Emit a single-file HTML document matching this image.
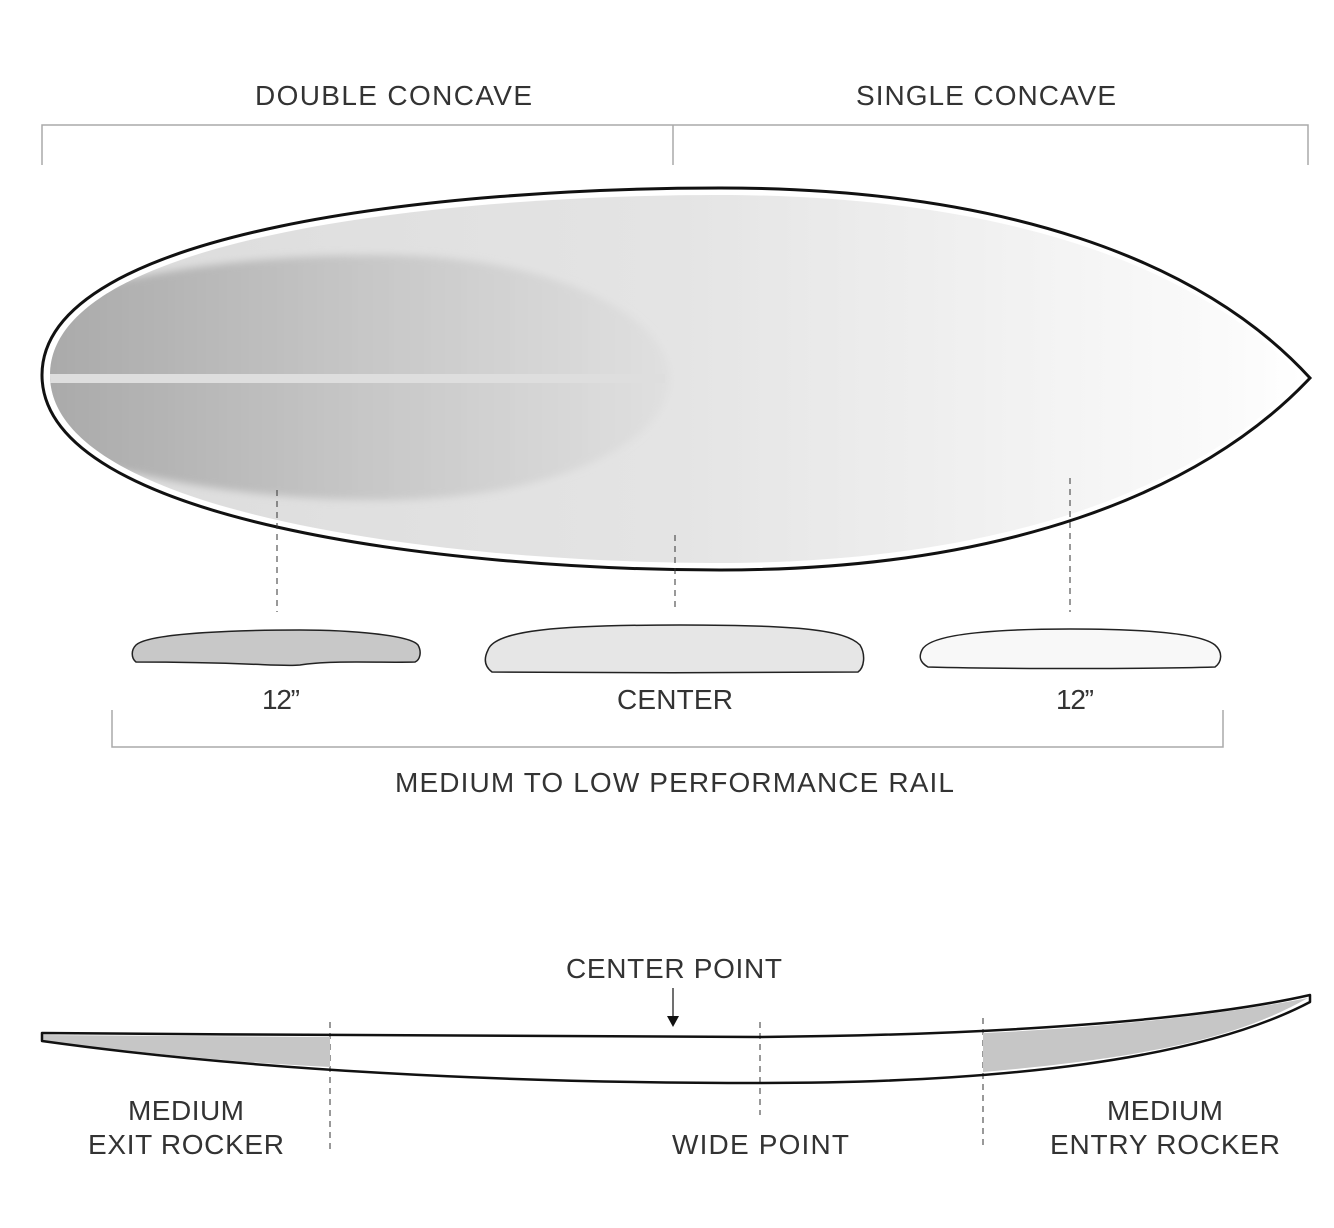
<!DOCTYPE html>
<html><head><meta charset="utf-8"><style>
html,body{margin:0;padding:0;background:#fff;}
svg{display:block;}
text{font-family:"Liberation Sans",sans-serif;font-size:28px;fill:#333;}
</style></head><body>
<svg width="1334" height="1228" viewBox="0 0 1334 1228" xmlns="http://www.w3.org/2000/svg">
<defs>
<linearGradient id="bg" x1="0" x2="1" y1="0" y2="0">
<stop offset="0" stop-color="#dcdcdc"/><stop offset="0.5" stop-color="#e4e4e4"/><stop offset="0.95" stop-color="#fbfbfb"/><stop offset="1" stop-color="#fff"/>
</linearGradient>
<linearGradient id="dk" x1="0" x2="1" y1="0" y2="0">
<stop offset="0" stop-color="#a9a9a9"/><stop offset="0.5" stop-color="#c6c6c6"/><stop offset="1" stop-color="#e0e0e0"/>
</linearGradient>
<filter id="bl" x="-0.1" y="-0.1" width="1.2" height="1.2"><feGaussianBlur stdDeviation="4"/></filter>
<clipPath id="cb"><path d="M50,375 C50,235 450,195 720,195 C1000,195 1200,265 1302,378 C1200,488 1000,563 720,563 C450,563 50,515 50,375 Z"/></clipPath>
</defs>
<path d="M42,165 V125 H1308 V165 M673,125 V165" fill="none" stroke="#aaa" stroke-width="1.5"/>
<text x="255" y="105" textLength="277">DOUBLE CONCAVE</text>
<text x="856" y="105" textLength="260">SINGLE CONCAVE</text>
<path d="M42,375 C42,228 450,188 720,188 C1000,188 1200,258 1310,378 C1200,495 1000,570 720,570 C450,570 42,522 42,375 Z" fill="#fff" stroke="#111" stroke-width="3"/>
<path d="M50,375 C50,235 450,195 720,195 C1000,195 1200,265 1302,378 C1200,488 1000,563 720,563 C450,563 50,515 50,375 Z" fill="url(#bg)"/>
<g clip-path="url(#cb)">
<path d="M40,300 C150,270 250,255 380,255 C560,255 670,320 670,378 C670,440 560,500 380,500 C250,500 150,480 40,450 Z" fill="url(#dk)" filter="url(#bl)"/>
<rect x="40" y="374" width="625" height="9" fill="#dedede"/>
</g>
<g stroke="#333" stroke-width="1" stroke-dasharray="6,5">
<line x1="277" y1="490" x2="277" y2="612"/>
<line x1="675" y1="535" x2="675" y2="612"/>
<line x1="1070" y1="478" x2="1070" y2="612"/>
<line x1="330" y1="1022" x2="330" y2="1150"/>
<line x1="760" y1="1022" x2="760" y2="1115"/>
<line x1="983" y1="1018" x2="983" y2="1150"/>
</g>
<path d="M136,645 C150,632 250,630 300,630 C350,630 410,635 418,645 C422,652 420,660 415,662 C380,663 330,660 300,665 C280,667 250,662 136,662 C131,658 131,650 136,645 Z" fill="#c8c8c8" stroke="#222" stroke-width="1.5"/>
<path d="M488,650 C495,630 560,625 680,625 C800,625 845,630 860,645 C866,655 864,668 858,672 C800,673 560,673 492,672 C484,666 484,658 488,650 Z" fill="#e6e6e6" stroke="#222" stroke-width="1.5"/>
<path d="M922,650 C930,633 1000,629 1070,629 C1140,629 1200,633 1215,645 C1223,652 1222,662 1215,667 C1150,669 1000,669 928,667 C919,662 919,656 922,650 Z" fill="#f8f8f8" stroke="#222" stroke-width="1.5"/>
<text x="262" y="709" textLength="38">12”</text>
<text x="617" y="709" textLength="116">CENTER</text>
<text x="1056" y="709" textLength="38">12”</text>
<path d="M112,710 V747 H1223 V710" fill="none" stroke="#aaa" stroke-width="1.5"/>
<text x="395" y="792" textLength="559">MEDIUM TO LOW PERFORMANCE RAIL</text>
<text x="566" y="978" textLength="216">CENTER POINT</text>
<line x1="673" y1="988" x2="673" y2="1016" stroke="#111" stroke-width="1.2"/>
<path d="M667,1016 L679,1016 L673,1027 Z" fill="#111"/>
<path d="M43,1035 L330,1037 L330,1067 C220,1062 120,1050 43,1041 Z" fill="#c6c6c6"/>
<path d="M983,1033 C1100,1028 1220,1015 1308,998 C1250,1030 1180,1055 983,1072 Z" fill="#c6c6c6"/>
<path d="M42,1033 C300,1035 600,1037 760,1037 C1000,1035 1200,1020 1310,995 L1310,1002 C1200,1060 1000,1083 760,1083 C500,1083 250,1070 42,1041 Z" fill="none" stroke="#111" stroke-width="2.5" stroke-linejoin="round"/>
<text x="128" y="1120" textLength="116">MEDIUM</text>
<text x="88" y="1154" textLength="196">EXIT ROCKER</text>
<text x="672" y="1154" textLength="177">WIDE POINT</text>
<text x="1107" y="1120" textLength="116">MEDIUM</text>
<text x="1050" y="1154" textLength="230">ENTRY ROCKER</text>
</svg>
</body></html>
